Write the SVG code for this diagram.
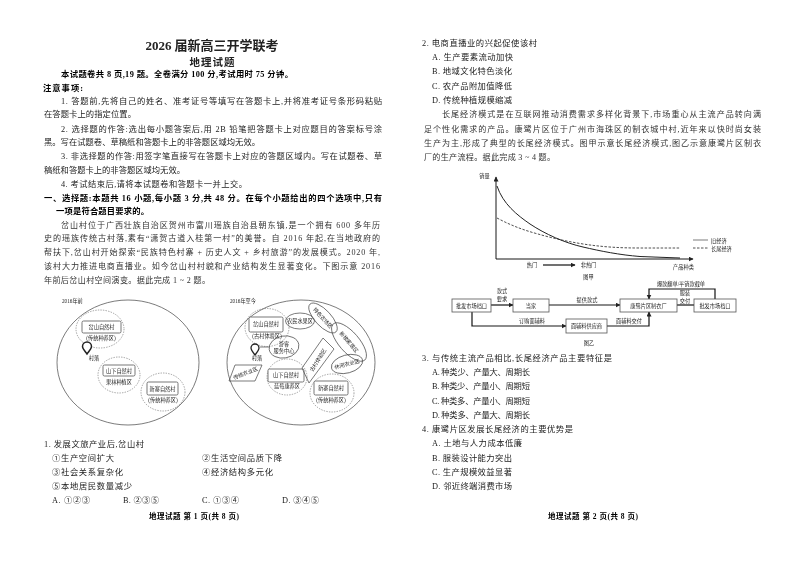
<svg xmlns="http://www.w3.org/2000/svg" width="800" height="566" viewBox="0 0 800 566">
<defs>
<filter id="scan" x="0" y="0" width="100%" height="100%"><feGaussianBlur stdDeviation="0.4"/></filter>
<marker id="ah" markerWidth="6" markerHeight="6" refX="4.5" refY="2.5" orient="auto" markerUnits="userSpaceOnUse"><path d="M0 0L5 2.5L0 5z" fill="#222"/></marker>
</defs>
<style>
text{font-family:"Liberation Serif","Noto Sans CJK SC",sans-serif;fill:#222}
.t{font-size:8.3px;fill:#222}
.k{font-size:8.1px;fill:#333}
.h{font-size:8.3px;font-weight:700;fill:#000}
.s{font-size:5.2px;text-anchor:middle;fill:#222}
.f{fill:none;stroke:#444;stroke-width:.7}
.d{fill:none;stroke:#666;stroke-width:.6;stroke-dasharray:1.4 1.2}
.r{fill:#fff;stroke:#555;stroke-width:.8}
.l{fill:none;stroke:#111;stroke-width:1.2}
.a{fill:none;stroke:#111;stroke-width:1.2;marker-end:url(#ah)}
</style>
<rect width="800" height="566" fill="#fff"/>
<g filter="url(#scan)">
<g id="page1-text">
<text x="212" y="50" text-anchor="middle" font-size="13" font-weight="700" fill="#000" textLength="133">2026 届新高三开学联考</text>
<text x="212" y="66" text-anchor="middle" font-size="10.5" font-weight="700" fill="#000" textLength="45">地理试题</text>
<text class="h" x="61" y="77" textLength="232">本试题卷共 8 页,19 题。全卷满分 100 分,考试用时 75 分钟。</text>
<text class="h" x="43" y="91" textLength="40">注意事项:</text>
<text class="t" x="61" y="104" textLength="321">1. 答题前,先将自己的姓名、准考证号等填写在答题卡上,并将准考证号条形码粘贴</text>
<text class="t" x="44" y="117" textLength="92">在答题卡上的指定位置。</text>
<text class="t" x="61" y="132" textLength="321">2. 选择题的作答:选出每小题答案后,用 2B 铅笔把答题卡上对应题目的答案标号涂</text>
<text class="t" x="44" y="145" textLength="216">黑。写在试题卷、草稿纸和答题卡上的非答题区域均无效。</text>
<text class="t" x="61" y="159" textLength="321">3. 非选择题的作答:用签字笔直接写在答题卡上对应的答题区域内。写在试题卷、草</text>
<text class="t" x="44" y="173" textLength="141">稿纸和答题卡上的非答题区域均无效。</text>
<text class="t" x="61" y="187" textLength="186">4. 考试结束后,请将本试题卷和答题卡一并上交。</text>
<text class="h" x="44" y="201" textLength="338">一、选择题:本题共 16 小题,每小题 3 分,共 48 分。在每个小题给出的四个选项中,只有</text>
<text class="h" x="56" y="214" textLength="93">一项是符合题目要求的。</text>
<text class="k" x="61" y="228" textLength="319">岔山村位于广西壮族自治区贺州市富川瑶族自治县朝东镇,是一个拥有 600 多年历</text>
<text class="k" x="44" y="241" textLength="336">史的瑶族传统古村落,素有“潇贺古道入桂第一村”的美誉。自 2016 年起,在当地政府的</text>
<text class="k" x="44" y="255" textLength="336">帮扶下,岔山村开始探索“民族特色村寨 + 历史人文 + 乡村旅游”的发展模式。2020 年,</text>
<text class="k" x="44" y="269" textLength="336">该村大力推进电商直播业。如今岔山村村貌和产业结构发生显著变化。下图示意 2016</text>
<text class="k" x="44" y="283" textLength="166">年前后岔山村空间演变。据此完成 1 ~ 2 题。</text>
</g>
<g id="map-before">
<text x="62" y="303" font-size="5.200">2016年前</text>
<ellipse class="f" cx="128" cy="362.500" rx="71" ry="62.500"/>
<g id="b-chashan"><ellipse class="d" cx="100" cy="329" rx="24" ry="19"/><rect class="r" x="82" y="321" width="39" height="12" rx="1.500"/><text class="s" x="101.500" y="329">岔山自然村</text><text class="s" x="101" y="340">(传统种养区)</text></g>
<g id="b-shanxia"><ellipse class="d" cx="119" cy="375" rx="21" ry="18"/><rect class="r" x="103" y="365" width="32" height="11" rx="1.500"/><text class="s" x="119" y="372.500">山下自然村</text><text class="s" x="119" y="384">果林种植区</text></g>
<g id="b-xinzhai"><ellipse class="d" cx="163" cy="392" rx="22" ry="19"/><rect class="r" x="147" y="382" width="31" height="13" rx="1.500"/><text class="s" x="162.500" y="390.500">新寨自然村</text><text class="s" x="163" y="402">(传统种养区)</text></g>
<g id="b-village"><path d="M87 354c-3-4-4.500-5.500-4.500-7.500a4.500 4.500 0 0 1 9 0c0 2-1.500 3.500-4.500 7.500z" fill="#fff" stroke="#222" stroke-width="1.500"/><text class="s" x="94" y="360">村落</text></g>
</g>
<g id="map-after">
<text x="230" y="303" font-size="5.200">2016年至今</text>
<ellipse class="f" cx="301" cy="362.500" rx="74" ry="62.500"/>
<g id="a-chashan"><ellipse class="d" cx="267" cy="327.500" rx="22" ry="19"/><rect class="r" x="249" y="317" width="34" height="15" rx="1.500"/><text class="s" x="266" y="326">岔山自然村</text><text class="s" x="267" y="338">(古村体验区)</text></g>
<g id="a-shanxia"><ellipse class="d" cx="287" cy="377" rx="20" ry="18"/><rect class="r" x="268" y="369" width="36" height="13" rx="1.500"/><text class="s" x="286" y="377">山下自然村</text><text class="s" x="287" y="388">蓝莓康养区</text></g>
<g id="a-xinzhai"><ellipse class="d" cx="332" cy="393" rx="22" ry="19"/><rect class="r" x="314" y="381" width="34" height="14" rx="1.500"/><text class="s" x="331" y="390">新寨自然村</text><text class="s" x="331" y="402">(传统种养区)</text></g>
<g id="a-fruit"><ellipse class="f" cx="300" cy="321" rx="14.500" ry="8"/><text class="s" x="300" y="323">农民水果区</text></g>
<g id="a-farm"><ellipse class="f" cx="323" cy="318" rx="19" ry="8" transform="rotate(47 323 318)"/><text class="s" x="323" y="320" transform="rotate(47 323 318)">特色农场区</text></g>
<g id="a-home"><ellipse class="f" cx="349" cy="342" rx="24" ry="10" transform="rotate(49 349 342)"/><text class="s" x="349" y="344" transform="rotate(49 349 342)">新楼家居区</text></g>
<g id="a-leisure"><ellipse class="f" cx="347" cy="364" rx="16" ry="9" transform="rotate(-15 347 364)"/><text class="s" x="347" y="366" transform="rotate(-15 347 364)">休闲农业区</text></g>
<g id="a-service"><ellipse class="f" cx="284" cy="347" rx="15" ry="11" transform="rotate(-10 284 347)"/><text class="s" x="284" y="345.500">游客</text><text class="s" x="284" y="352.500">服务中心</text></g>
<g id="a-tradfarm"><polygon class="f" points="235,365 262,365 255,381 229,381"/><text class="s" x="245.500" y="375" transform="rotate(-22 245.500 373)">传统农业区</text></g>
<g id="a-oldvillage"><polygon class="f" points="323,338 334,349 309,383 302,368"/><text class="s" x="318" y="362" transform="rotate(-58 318 360)">古村体验区</text></g>
<g id="a-village"><path d="M255 355c-2.800-3.500-4-5-4-7a4 4 0 0 1 8 0c0 2-1.200 3.500-4 7z" fill="#fff" stroke="#222" stroke-width="1.300"/><text class="s" x="257" y="360">村落</text></g>
<path class="f" d="M260 347H269"/>
</g>
<g id="q1">
<text class="t" x="44" y="447" textLength="100">1. 发展文旅产业后,岔山村</text>
<text class="t" x="52" y="461" textLength="62">①生产空间扩大</text>
<text class="t" x="202" y="461" textLength="80">②生活空间品质下降</text>
<text class="t" x="52" y="475" textLength="71">③社会关系复杂化</text>
<text class="t" x="202" y="475" textLength="71">④经济结构多元化</text>
<text class="t" x="52" y="489" textLength="80">⑤本地居民数量减少</text>
<text class="t" x="52" y="503" textLength="38">A. ①②③</text>
<text class="t" x="123" y="503" textLength="36">B. ②③⑤</text>
<text class="t" x="202" y="503" textLength="37">C. ①③④</text>
<text class="t" x="282" y="503" textLength="37">D. ③④⑤</text>
<text class="h" x="149" y="519" style="font-size:7.500px" textLength="90">地理试题 第 1 页(共 8 页)</text>
</g>
<g id="page2-text">
<text class="t" x="422" y="46" textLength="115">2. 电商直播业的兴起促使该村</text>
<text class="t" x="432" y="60" textLength="81">A. 生产要素流动加快</text>
<text class="t" x="432" y="74" textLength="80">B. 地域文化特色淡化</text>
<text class="t" x="432" y="89" textLength="80">C. 农产品附加值降低</text>
<text class="t" x="432" y="103" textLength="80">D. 传统种植规模缩减</text>
<text class="k" x="442" y="117" textLength="319">长尾经济模式是在互联网推动消费需求多样化背景下,市场重心从主流产品转向满</text>
<text class="k" x="424" y="132" textLength="337">足个性化需求的产品。康鹭片区位于广州市海珠区的制衣城中村,近年来以快时尚女装</text>
<text class="k" x="424" y="146" textLength="337">生产为主,形成了典型的长尾经济模式。图甲示意长尾经济模式,图乙示意康鹭片区制衣</text>
<text class="k" x="424" y="160" textLength="131">厂的生产流程。据此完成 3 ~ 4 题。</text>
</g>
<g id="chart-jia">
<text class="s" x="484.500" y="178">销量</text>
<path class="a" d="M496 259V177" style="stroke-width:1"/>
<path class="a" d="M496 259H693" style="stroke-width:1"/>
<path d="M497 186C503 204 517 215 530 224C545 234 565 243 583 247C600 251 620 255 640 256.500L680 258" fill="none" stroke="#222" stroke-width="1"/>
<path d="M497 218C510 225 523 230 538 234C555 239 575 243 590 245C605 247 620 248 640 248L680 248" fill="none" stroke="#222" stroke-width=".8" stroke-dasharray="2.500 1.500"/>
<path d="M693 240H708" stroke="#444" stroke-width=".7"/>
<path d="M693 248H708" stroke="#222" stroke-width=".8" stroke-dasharray="2.500 1.500"/>
<text x="711" y="243" font-size="5.200">旧经济</text>
<text x="711" y="251" font-size="5.200">长尾经济</text>
<text class="s" x="532" y="267">热门</text>
<path class="a" d="M543 265H575"/>
<text class="s" x="588.500" y="267">非热门</text>
<text class="s" x="683.500" y="269">产品种类</text>
<text class="s" x="588.500" y="279">图甲</text>
</g>
<g id="flow-connectors">
<path class="a" d="M491 305H513"/>
<path class="a" d="M549 305H620"/>
<path class="l" d="M677 305H694"/>
<path class="a" d="M472 312V326H566"/>
<path class="a" d="M607 326H649V312"/>
<path class="a" d="M715 299V289H649V299"/>
</g>
<g id="flow-wholesale1"><rect class="r" x="452" y="299" width="39" height="13"/><text class="s" x="471.500" y="307.500">批发市场档口</text></g>
<g id="flow-design"><rect class="r" x="513" y="299" width="36" height="13"/><text class="s" x="531" y="307.500">当家</text></g>
<g id="flow-factory"><rect class="r" x="620" y="299" width="57" height="13"/><text class="s" x="648.500" y="307.500">康鹭片区制衣厂</text></g>
<g id="flow-wholesale2"><rect class="r" x="694" y="299" width="42" height="13"/><text class="s" x="715" y="307.500">批发市场档口</text></g>
<g id="flow-supplier"><rect class="r" x="566" y="319" width="41" height="14"/><text class="s" x="586.500" y="328">面辅料供应商</text></g>
<g id="flow-labels">
<text class="s" x="502" y="293">款式</text><text class="s" x="502" y="301">要求</text>
<text class="s" x="587" y="302">提供款式</text>
<text class="s" x="532" y="323">订购面辅料</text>
<text class="s" x="629" y="323">面辅料交付</text>
<text class="s" x="681" y="286">爆款翻单/平销款截单</text>
<text class="s" x="685" y="295">服装</text><text class="s" x="685" y="303">交付</text>
<text class="s" x="589" y="345">图乙</text>
</g>
<g id="q3-q4">
<text class="t" x="422" y="361" textLength="190">3. 与传统主流产品相比,长尾经济产品主要特征是</text>
<text class="t" x="432" y="375" textLength="98">A. 种类少、产量大、周期长</text>
<text class="t" x="432" y="389" textLength="98">B. 种类少、产量小、周期短</text>
<text class="t" x="432" y="404" textLength="98">C. 种类多、产量小、周期短</text>
<text class="t" x="432" y="418" textLength="98">D. 种类多、产量大、周期长</text>
<text class="t" x="422" y="432" textLength="151">4. 康鹭片区发展长尾经济的主要优势是</text>
<text class="t" x="432" y="446" textLength="90">A. 土地与人力成本低廉</text>
<text class="t" x="432" y="461" textLength="80">B. 服装设计能力突出</text>
<text class="t" x="432" y="475" textLength="80">C. 生产规模效益显著</text>
<text class="t" x="432" y="489" textLength="80">D. 邻近终端消费市场</text>
<text class="h" x="548" y="519" style="font-size:7.500px" textLength="90">地理试题 第 2 页(共 8 页)</text>
</g>
</g>
</svg>
